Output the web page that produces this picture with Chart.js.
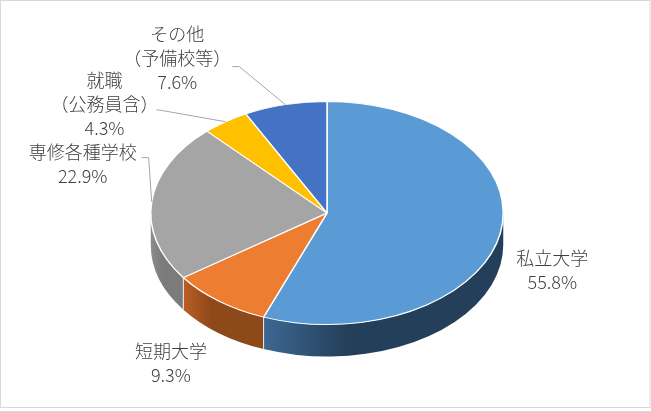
<!DOCTYPE html>
<html>
<head>
<meta charset="utf-8">
<script src="https://cdn.jsdelivr.net/npm/chart.js@4.4.1/dist/chart.umd.min.js"></script>
<style>
  html, body { margin: 0; padding: 0; background: #fff; }
  #wrap { width: 651px; height: 412px; }
</style>
</head>
<body>
<div id="wrap"><canvas id="myChart" width="651" height="412"></canvas></div>
<script>
  // 進路別の割合 (%)
  const categories = [['私立大学'], ['短期大学'], ['専修各種学校'], ['就職', '（公務員含）'], ['その他', '（予備校等）']];
  const shares = [55.8, 9.3, 22.9, 4.3, 7.6];

  const topColors = ['#5B9BD5', '#ED7D31', '#A5A5A5', '#FFC000', '#4472C4'];
  const sideColors = [['#3d6793', '#243f59'], ['#bb5e25', '#8e491b'], ['#8d8d8d', '#7b7b7b'], ['#bf9000', '#9f7800'], ['#30538f', '#223b66']];

  const tilt = 0.633; // 縦のつぶれ具合
  const depth = 32;   // 側面の厚さ

  // ラベル位置: 扇の外周(中央角)からのずれ
  const labelShift = [[52, 37], [-48, 62], [-69, -37], [-121, -18], [-108, -46]];
  // 引き出し線: ラベル中心からの折れ点
  const leaderPts = [null, null, [[66, -7], [59, -7]], [[59, 7], [52, 6]], [[62, 8], [55, 8]]];

  const pie3d = {
    id: 'pie3d',
    beforeDraw(chart) {
      const ctx = chart.ctx;
      ctx.save();
      ctx.strokeStyle = '#d9d9d9';
      ctx.lineWidth = 1;
      ctx.strokeRect(0.5, 0.5, 649.5, 407);
      ctx.beginPath();
      ctx.moveTo(0, 411.5);
      ctx.lineTo(651, 411.5);
      ctx.stroke();
      ctx.restore();
    },
    beforeDatasetsDraw(chart) {
      const ctx = chart.ctx;
      const arcs = chart.getDatasetMeta(0).data;
      const cx = arcs[0].x, cy = arcs[0].y, r = arcs[0].outerRadius;
      const ry = r * tilt;
      ctx.save();
      // 側面
      arcs.forEach((a, i) => {
        const s = Math.max(a.startAngle, 0);
        const e = Math.min(a.endAngle, Math.PI);
        if (e <= s) return;
        const x1 = cx + r * Math.cos(e), x2 = cx + r * Math.cos(s);
        const g = ctx.createLinearGradient(Math.min(x1, x2), 0, Math.max(x1, x2), 0);
        g.addColorStop(0, sideColors[i][0]);
        g.addColorStop(0.35, sideColors[i][1]);
        g.addColorStop(1, sideColors[i][1]);
        ctx.beginPath();
        ctx.ellipse(cx, cy, r, ry, 0, s, e);
        ctx.ellipse(cx, cy + depth, r, ry, 0, e, s, true);
        ctx.closePath();
        ctx.fillStyle = g;
        ctx.fill();
      });
      // 側面の境界線
      ctx.strokeStyle = 'rgba(255,255,255,0.85)';
      ctx.lineWidth = 1;
      arcs.forEach(a => {
        const t = a.endAngle;
        if (t > 0 && t < Math.PI) {
          const px = cx + r * Math.cos(t), py = cy + ry * Math.sin(t);
          ctx.beginPath();
          ctx.moveTo(px, py);
          ctx.lineTo(px, py + depth);
          ctx.stroke();
        }
      });
      // 上面をつぶす
      ctx.translate(cx, cy);
      ctx.scale(1, tilt);
      ctx.translate(-cx, -cy);
    },
    afterDatasetsDraw(chart) {
      const ctx = chart.ctx;
      ctx.restore();
      const arcs = chart.getDatasetMeta(0).data;
      ctx.save();
      ctx.font = '300 18px "Noto Sans CJK JP", "Noto Sans", sans-serif';
      ctx.textAlign = 'center';
      ctx.textBaseline = 'middle';
      arcs.forEach((a, i) => {
        const mid = (a.startAngle + a.endAngle) / 2;
        const ax = a.x + a.outerRadius * Math.cos(mid);
        const ay = a.y + a.outerRadius * tilt * Math.sin(mid);
        const lx = ax + labelShift[i][0], ly = ay + labelShift[i][1];
        if (leaderPts[i]) {
          ctx.strokeStyle = '#a6a6a6';
          ctx.lineWidth = 1;
          ctx.beginPath();
          ctx.moveTo(ax, ay);
          leaderPts[i].forEach(p => ctx.lineTo(lx + p[0], ly + p[1]));
          ctx.stroke();
        }
        const lines = categories[i].concat([shares[i].toFixed(1) + '%']);
        const lh = 24;
        const top = ly - (lines.length - 1) * lh / 2;
        ctx.fillStyle = '#404040';
        lines.forEach((t, j) => ctx.fillText(t, lx, top + j * lh));
      });
      ctx.restore();
    }
  };

  const ctx = document.getElementById('myChart').getContext('2d');

  const myChart = new Chart(ctx, {
    type: 'pie',
    data: {
      labels: categories.map(c => c.join('')),
      datasets: [{
        data: shares,
        backgroundColor: topColors,
        borderColor: '#ffffff',
        borderWidth: 1.5,
        clip: false,
      }],
    },
    options: {
      responsive: false,
      animation: false,
      events: [],
      layout: { padding: { left: 150, right: 147, top: 36, bottom: 22 } },
      plugins: {
        legend: { display: false },
        tooltip: { enabled: false },
      },
    },
    plugins: [pie3d],
  });
</script>
</body>
</html>
